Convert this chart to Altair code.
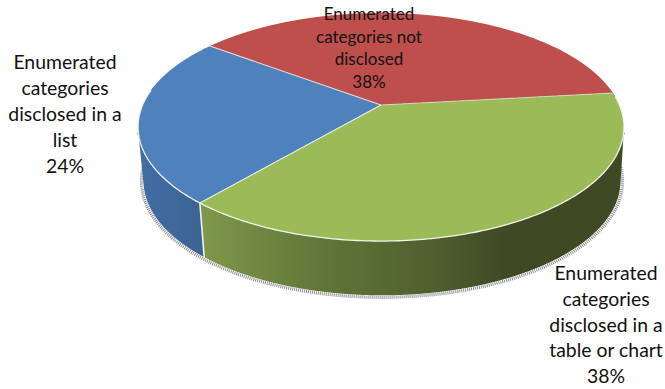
import numpy as np
import pandas as pd
import altair as alt

# Slice shares, in drawing order, counter-clockwise from the start angle
names = ["Enumerated\ncategories not\ndisclosed",
         "Enumerated\ncategories\ndisclosed in a\nlist",
         "Enumerated\ncategories\ndisclosed in a\ntable or chart"]
shares = [38, 24, 38]
top_colors = ["#BE4F4C", "#4F81BD", "#9BBB59"]
label_x = [369, 65, 606]
label_y = [15, 63, 274]
label_size = [17, 19.4, 19.4]
label_leading = [22.7, 26, 25.8]

W, H = 665, 389
START_DEG = 6.4
TILT = 0.193                      # strength of the perspective foreshortening
TOP = dict(cx=381, cy=105, ax=238.4, ay=109.8)
BASE = dict(cx=382, cy=159, ax=234, ay=110)
SHADOW = dict(cx=382, cy=159, ax=236, ay=111.6)

xs = alt.X("x:Q", scale=alt.Scale(domain=[0, W], nice=False, zero=False), axis=None)
ys = alt.Y("y:Q", scale=alt.Scale(domain=[H, 0], nice=False, zero=False), axis=None)


def rim(deg, disc):
    """Perspective projection of points on the pie's circular edge."""
    t = np.radians(deg)
    d = 1 + TILT * np.sin(t)
    return np.column_stack((disc["cx"] + disc["ax"] * np.cos(t) / d,
                            disc["cy"] - disc["ay"] * np.sin(t) / d))


def hull(points):
    """Convex hull (monotone chain), so a wall also spans the silhouette tangents."""
    pts = sorted(map(tuple, points))

    def half(seq):
        out = []
        for p in seq:
            while len(out) > 1 and ((out[-1][0] - out[-2][0]) * (p[1] - out[-2][1])
                                    - (out[-1][1] - out[-2][1]) * (p[0] - out[-2][0])) <= 0:
                out.pop()
            out.append(p)
        return out[:-1]

    return np.array(half(pts) + half(pts[::-1]))


def envelope(poly, step=0.5):
    """Upper and lower outline of a closed polygon on a regular x grid."""
    px, py = poly[:, 0], poly[:, 1]
    grid = np.arange(px.min(), px.max() + step, step)
    rows = []
    qx, qy = np.roll(px, -1), np.roll(py, -1)
    for g in grid:
        g = min(g, px.max() - 1e-6)
        hit = ((px <= g) & (qx > g)) | ((qx <= g) & (px > g))
        if hit.any():
            c = py[hit] + (g - px[hit]) * (qy[hit] - py[hit]) / (qx[hit] - px[hit])
            rows.append((g, c.min(), c.max()))
    return pd.DataFrame(rows, columns=["x", "y", "y2"])


def area_layer(poly, fill):
    return alt.Chart(envelope(poly)).mark_area(color=fill, interpolate="linear", clip=False).encode(
        x=xs, y=ys, y2="y2:Q")


def line_layer(pts, color, width, **kw):
    df = pd.DataFrame(pts, columns=["x", "y"]).assign(i=lambda d: np.arange(len(d)))
    return alt.Chart(df).mark_line(color=color, strokeWidth=width, **kw).encode(
        x=xs, y=ys, order="i:Q")


# Slice boundaries follow directly from the shares
edges = START_DEG + np.concatenate(([0], np.cumsum(shares))) * 360 / sum(shares)
red_from, blue_from, green_from, green_to = edges


def arc(a, b, n=240):
    return np.linspace(a, b, n)


def hstops(*pairs):
    return alt.Gradient(gradient="linear", x1=0, x2=1, y1=0, y2=0,
                        stops=[alt.GradientStop(offset=o, color=c) for o, c in pairs])


layers = []

# Speckled contact shadow under the side wall, running up both silhouette tangents
top_edge = rim(arc(0, 360, 721), TOP)
left_tip = top_edge[top_edge[:, 0].argmin()] + np.array([-0.5, 6])
right_tip = top_edge[top_edge[:, 0].argmax()] + np.array([0.5, 6])
shadow = np.vstack((left_tip, rim(arc(170, 370), SHADOW), right_tip))
layers.append(line_layer(shadow, "#6f6f6f", 3.2, strokeDash=[1, 1], opacity=0.8))

# Side wall, blue then green
blue_arc = arc(green_from - 60, green_from)
blue_wall = hull(np.vstack((rim(blue_arc, TOP), rim(blue_arc, BASE))))
layers.append(area_layer(blue_wall, hstops((0, "#436EA5"), (1, "#3B6392"))))

green_arc = arc(green_from, green_to)
green_wall = hull(np.vstack((rim(green_arc, TOP), rim(green_arc, BASE))))
layers.append(area_layer(green_wall, hstops((0, "#7F984B"), (0.28, "#627739"),
                                            (0.56, "#4E5E2E"), (0.72, "#3F4A24"), (1, "#3F4A24"))))

# Top face wedges
apex = np.array([[TOP["cx"], TOP["cy"]]])
for a, b, c in zip(edges[:-1], edges[1:], top_colors):
    layers.append(area_layer(np.vstack((apex, rim(arc(a, b), TOP))), c))

# Light bevel lines along the visible edges
layers.append(line_layer(rim(arc(172, green_to - 2), TOP), "#F2F5EA", 1.3))
layers.append(line_layer(np.vstack((rim(np.array([green_from]), TOP), rim(np.array([green_from]), BASE))),
                         "#EEF2EC", 1.6))
layers.append(line_layer(np.vstack((apex, rim(np.array([green_from]), TOP))), "#E8EEE0", 1.1))
layers.append(line_layer(np.vstack((apex, rim(np.array([blue_from]), TOP))), "#E6D9D8", 1.1))
layers.append(line_layer(np.vstack((apex, rim(np.array([red_from]), TOP))), "#D9DFC8", 0.8))

# Category labels with their percentages
for name, share, lx, ly, size, lead in zip(names, shares, label_x, label_y, label_size, label_leading):
    df = pd.DataFrame({"x": [lx], "y": [ly], "t": [f"{name}\n{share}%"]})
    layers.append(alt.Chart(df).mark_text(font="Lato", fontSize=size, lineHeight=lead, lineBreak="\n",
                                          align="center", baseline="middle", color="#111111").encode(
        x=xs, y=ys, text="t:N"))

chart = alt.layer(*layers).properties(width=W, height=H, padding=0).configure_view(stroke=None)
chart.save("out.html", embed_options={"renderer": "svg", "actions": False})
